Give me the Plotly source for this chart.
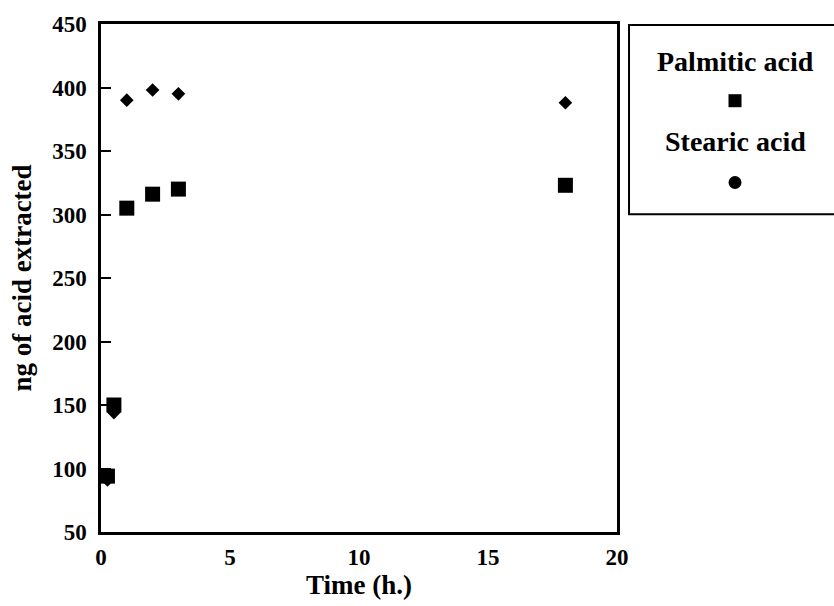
import plotly.graph_objects as go

# Extraction time (hours) and amount of acid extracted (ng)
palmitic_time = [0.25, 0.5, 1, 2, 3, 18]
palmitic_ng = [94, 150, 305, 316, 320, 323]

stearic_time = [0.25, 0.5, 1, 2, 3, 18]
stearic_ng = [91, 144, 390, 398, 395, 388]

x_ticks = [0, 5, 10, 15, 20]
y_ticks = [50, 100, 150, 200, 250, 300, 350, 400, 450]

serif = "Liberation Serif, Times New Roman, serif"

fig = go.Figure()

fig.add_trace(go.Scatter(
    x=stearic_time, y=stearic_ng, mode="markers", name="Stearic acid",
    marker=dict(symbol="diamond", size=10.5, color="black"),
    showlegend=False, cliponaxis=False,
))
fig.add_trace(go.Scatter(
    x=palmitic_time, y=palmitic_ng, mode="markers", name="Palmitic acid",
    marker=dict(symbol="square", size=15, color="black"),
    showlegend=False, cliponaxis=False,
))

# Boxed key to the right of the plot area
key_x = 1.2287
fig.add_shape(type="rect", xref="paper", yref="paper",
              x0=1.0233, x1=1.45, y0=0.6255, y1=0.998,
              line=dict(color="black", width=2), fillcolor="white")
fig.add_annotation(text="Palmitic acid", xref="paper", yref="paper",
                   x=key_x, y=0.927, xanchor="center", yanchor="middle",
                   showarrow=False,
                   font=dict(family=serif, size=28, color="black", weight="bold"))
fig.add_annotation(text="Stearic acid", xref="paper", yref="paper",
                   x=key_x, y=0.7686, xanchor="center", yanchor="middle",
                   showarrow=False,
                   font=dict(family=serif, size=28, color="black", weight="bold"))
fig.add_shape(type="rect", xref="paper", yref="paper",
              xsizemode="pixel", ysizemode="pixel", xanchor=key_x, yanchor=0.849,
              x0=-6.5, x1=6.5, y0=-6.5, y1=6.5,
              line=dict(width=0), fillcolor="black")
fig.add_shape(type="circle", xref="paper", yref="paper",
              xsizemode="pixel", ysizemode="pixel", xanchor=key_x, yanchor=0.688,
              x0=-6.5, x1=6.5, y0=-6.5, y1=6.5,
              line=dict(width=0), fillcolor="black")

fig.update_layout(
    width=834, height=606,
    margin=dict(l=101, r=217, t=22, b=74),
    paper_bgcolor="white", plot_bgcolor="white",
    font=dict(family=serif, color="black"),
    showlegend=False,
)

fig.update_xaxes(
    range=[0, 20], tickvals=x_ticks, ticks="", showgrid=False, zeroline=False,
    showline=True, linecolor="black", linewidth=2.5, mirror=True,
    tickfont=dict(family=serif, size=23, color="black", weight="bold"),
    ticklabelstandoff=3,
    title=dict(text="Time (h.)", standoff=2,
               font=dict(family=serif, size=27, color="black", weight="bold")),
)
fig.update_yaxes(
    range=[50, 450], tickvals=y_ticks, ticks="inside", ticklen=10, tickwidth=2,
    tickcolor="black", showgrid=False, zeroline=False,
    showline=True, linecolor="black", linewidth=2.5, mirror=True,
    tickfont=dict(family=serif, size=23, color="black", weight="bold"),
    ticklabelstandoff=7,
    title=dict(text="ng of acid extracted", standoff=13,
               font=dict(family=serif, size=27, color="black", weight="bold")),
)

fig.write_html("out.html")
